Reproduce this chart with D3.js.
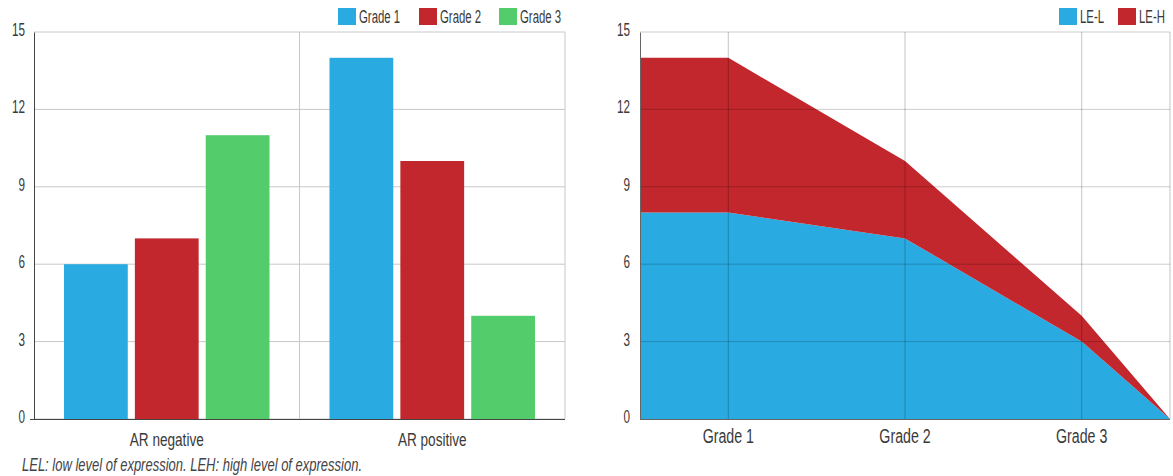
<!DOCTYPE html>
<html>
<head>
<meta charset="utf-8">
<script src="https://cdn.jsdelivr.net/npm/d3@7"></script>
<style>
  body { margin: 0; background: #fff; }
  svg { display: block; font-family: "Liberation Sans", sans-serif; }
</style>
</head>
<body>
<svg id="chart" width="1173" height="476"></svg>
<script>
// left panel data
const arCategories = ['AR negative', 'AR positive'];
const gradeNames = ['Grade 1', 'Grade 2', 'Grade 3'];
const grade1 = [6, 14];
const grade2 = [7, 10];
const grade3 = [11, 4];
const yTicks = [0, 3, 6, 9, 12, 15];

// right panel data (edge points at -0.5 and 2.5 in category units)
const leCategories = ['Grade 1', 'Grade 2', 'Grade 3'];
const lePos = [-0.5, 0, 1, 2, 2.5];
const leL = [8, 8, 7, 3, 0];
const leH = [6, 6, 3, 1, 0];
const leNames = ['LE-L', 'LE-H'];

const colors = ['#29abe2', '#c1272d', '#53cd6c'];
const textCol = '#3a3a3a';

const svg = d3.select('#chart');

// squeeze a text horizontally, to mimic the condensed face of the original
function squeeze(sel, k) {
  sel.each(function () {
    const w = this.getComputedTextLength();
    this.setAttribute('textLength', w * k);
    this.setAttribute('lengthAdjust', 'spacingAndGlyphs');
  });
}

function legend(g, names, x0, widths) {
  let x = x0;
  names.forEach((n, i) => {
    g.append('rect').attr('x', x).attr('y', 8).attr('width', 18).attr('height', 17).attr('fill', colors[i]);
    g.append('text').attr('x', x + 21).attr('y', 23).attr('font-size', 17.5).attr('fill', textCol)
      .text(n).call(squeeze, 0.65);
    x += widths[i];
  });
}

// ---------- left: grouped bars ----------
{
  const m = { left: 34, right: 565, top: 32, bottom: 419 };
  const x0 = d3.scaleBand().domain(arCategories).range([m.left, m.right]);
  const x1 = d3.scaleBand().domain(gradeNames).range([30, x0.bandwidth() - 30]).paddingInner(0.1);
  const y = d3.scaleLinear().domain([0, 15]).range([m.bottom, m.top]);
  const g = svg.append('g');

  g.selectAll('.hg').data(yTicks).join('line')
    .attr('x1', m.left).attr('x2', m.right)
    .attr('y1', d => y(d)).attr('y2', d => y(d))
    .attr('stroke', '#c8c8c8');
  g.selectAll('.vg').data(arCategories.slice(1).concat(['end'])).join('line')
    .attr('x1', (d, i) => i === 0 ? x0(d) : m.right).attr('x2', (d, i) => i === 0 ? x0(d) : m.right)
    .attr('y1', m.top).attr('y2', m.bottom)
    .attr('stroke', '#c8c8c8');

  const series = [grade1, grade2, grade3];
  arCategories.forEach((c, ci) => {
    series.forEach((s, si) => {
      g.append('rect')
        .attr('x', x0(c) + x1(gradeNames[si]))
        .attr('width', x1.bandwidth())
        .attr('y', y(s[ci]))
        .attr('height', y(0) - y(s[ci]))
        .attr('fill', colors[si]);
    });
  });

  const ya = g.append('g').attr('transform', `translate(${m.left},0)`)
    .call(d3.axisLeft(y).tickValues(yTicks).tickSize(0).tickPadding(9));
  ya.select('.domain').attr('stroke', '#444');
  ya.selectAll('text').attr('font-size', 18).attr('fill', textCol).attr('font-family', null)
    .attr('dy', 3.5).call(squeeze, 0.65);

  const xa = g.append('g').attr('transform', `translate(0,${m.bottom})`)
    .call(d3.axisBottom(x0).tickSize(0));
  xa.select('.domain').attr('d', `M${m.left - 4},0.5H${m.right}`).attr('stroke', '#444');
  xa.selectAll('text').attr('font-size', 18).attr('fill', textCol).attr('font-family', null)
    .attr('y', 27).attr('dy', null).call(squeeze, 0.755);

  legend(g, gradeNames, 338, [81, 80, 80]);
}

// ---------- right: stacked area ----------
{
  const m = { left: 640, right: 1170, top: 32, bottom: 419 };
  const xb = d3.scaleBand().domain(leCategories).range([m.left, m.right]);
  const x = d3.scaleLinear().domain([-0.5, 2.5]).range([m.left, m.right]);
  const y = d3.scaleLinear().domain([0, 15]).range([m.bottom, m.top]);
  const g = svg.append('g');

  const pts = lePos.map((p, i) => ({ p, l: leL[i], h: leH[i] }));
  const stack = d3.stack().keys(['l', 'h'])(pts);
  const area = d3.area().x(d => x(d.data.p)).y0(d => y(d[0])).y1(d => y(d[1]));

  g.selectAll('.ar').data(stack).join('path')
    .attr('d', area).attr('fill', (d, i) => colors[i]);

  g.selectAll('.hg').data(yTicks.slice(1)).join('line')
    .attr('x1', m.left).attr('x2', m.right)
    .attr('y1', d => y(d)).attr('y2', d => y(d))
    .attr('stroke', 'rgba(0,0,0,0.2)');
  g.selectAll('.vg').data(leCategories.concat(['end'])).join('line')
    .attr('x1', d => d === 'end' ? m.right : xb(d) + xb.bandwidth() / 2)
    .attr('x2', d => d === 'end' ? m.right : xb(d) + xb.bandwidth() / 2)
    .attr('y1', m.top).attr('y2', m.bottom)
    .attr('stroke', 'rgba(0,0,0,0.2)').attr('stroke-width', 1.2);

  const ya = g.append('g').attr('transform', `translate(${m.left},0)`)
    .call(d3.axisLeft(y).tickValues(yTicks).tickSize(0).tickPadding(10));
  ya.select('.domain').attr('stroke', '#666');
  ya.selectAll('text').attr('font-size', 18).attr('fill', textCol).attr('font-family', null)
    .attr('dy', 3.5).call(squeeze, 0.65);

  const xa = g.append('g').attr('transform', `translate(0,${m.bottom})`)
    .call(d3.axisBottom(xb).tickSize(0));
  xa.select('.domain').attr('d', `M${m.left},0.5H${m.right}`).attr('stroke', '#666');
  xa.selectAll('text').attr('font-size', 20).attr('fill', textCol).attr('font-family', null)
    .attr('y', 24).attr('dy', null).call(squeeze, 0.71);

  legend(g, leNames, 1059, [59, 59]);
}

const note = svg.append('text')
  .attr('x', 22).attr('y', 471)
  .attr('font-size', 18).attr('font-style', 'italic').attr('fill', '#444')
  .text('LEL: low level of expression. LEH: high level of expression.');
note.attr('textLength', 340).attr('lengthAdjust', 'spacingAndGlyphs');
</script>
</body>
</html>
